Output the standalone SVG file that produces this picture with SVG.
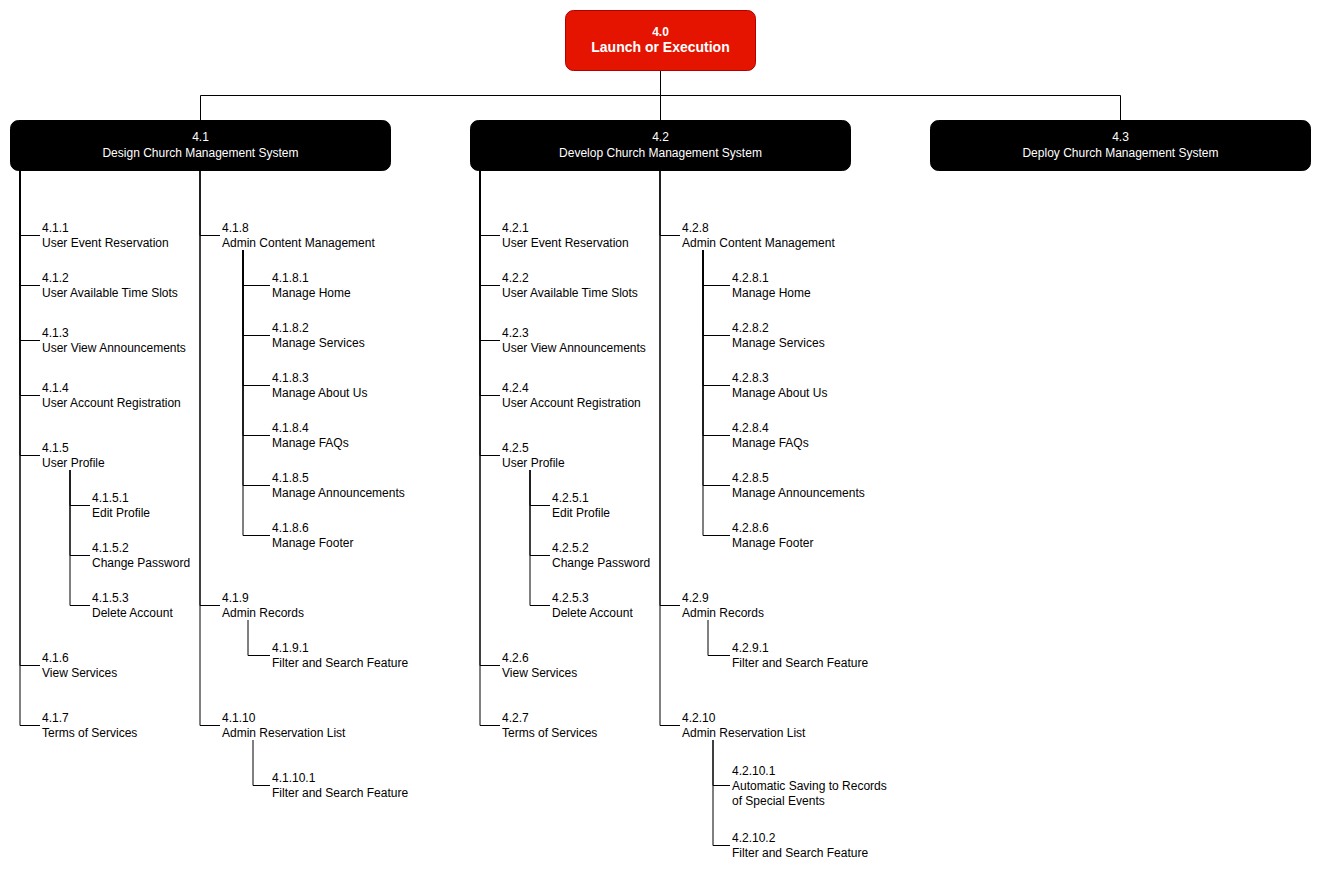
<svg xmlns="http://www.w3.org/2000/svg" width="1321" height="871" viewBox="0 0 1321 871">
<style>
.e{fill:none;stroke:#000;stroke-width:1}
.t{font-family:"Liberation Sans",Arial,Helvetica,sans-serif;font-size:12px;fill:#000}
.h{font-family:"Liberation Sans",Arial,Helvetica,sans-serif;font-size:12px;fill:#fff;text-anchor:middle}
.rb{font-weight:bold}
.box{fill:#000;stroke:#000}
.root{fill:#e51400;stroke:#b20000}
</style>
<rect width="1321" height="871" fill="#fff"/>
<g id="connectors">
<path class="e" d="M660.5,70 V95.5 H200.5 V120"/>
<path class="e" d="M660.5,70 V120"/>
<path class="e" d="M660.5,70 V95.5 H1120.5 V120"/>
<path class="e" d="M20,170 V235.5 H40"/>
<path class="e" d="M20,170 V285.5 H40"/>
<path class="e" d="M20,170 V340.5 H40"/>
<path class="e" d="M20,170 V395.5 H40"/>
<path class="e" d="M20,170 V455.5 H40"/>
<path class="e" d="M20,170 V665.5 H40"/>
<path class="e" d="M20,170 V725.5 H40"/>
<path class="e" d="M70,470 V505.5 H90"/>
<path class="e" d="M70,470 V555.5 H90"/>
<path class="e" d="M70,470 V605.5 H90"/>
<path class="e" d="M200,170 V235.5 H220"/>
<path class="e" d="M200,170 V605.5 H220"/>
<path class="e" d="M200,170 V725.5 H220"/>
<path class="e" d="M243,250 V285.5 H270"/>
<path class="e" d="M243,250 V335.5 H270"/>
<path class="e" d="M243,250 V385.5 H270"/>
<path class="e" d="M243,250 V435.5 H270"/>
<path class="e" d="M243,250 V485.5 H270"/>
<path class="e" d="M243,250 V535.5 H270"/>
<path class="e" d="M248,620 V655.5 H270"/>
<path class="e" d="M253,740 V785.5 H270"/>
<path class="e" d="M480,170 V235.5 H500"/>
<path class="e" d="M480,170 V285.5 H500"/>
<path class="e" d="M480,170 V340.5 H500"/>
<path class="e" d="M480,170 V395.5 H500"/>
<path class="e" d="M480,170 V455.5 H500"/>
<path class="e" d="M480,170 V665.5 H500"/>
<path class="e" d="M480,170 V725.5 H500"/>
<path class="e" d="M530,470 V505.5 H550"/>
<path class="e" d="M530,470 V555.5 H550"/>
<path class="e" d="M530,470 V605.5 H550"/>
<path class="e" d="M660,170 V235.5 H680"/>
<path class="e" d="M660,170 V605.5 H680"/>
<path class="e" d="M660,170 V725.5 H680"/>
<path class="e" d="M703,250 V285.5 H730"/>
<path class="e" d="M703,250 V335.5 H730"/>
<path class="e" d="M703,250 V385.5 H730"/>
<path class="e" d="M703,250 V435.5 H730"/>
<path class="e" d="M703,250 V485.5 H730"/>
<path class="e" d="M703,250 V535.5 H730"/>
<path class="e" d="M708,620 V655.5 H730"/>
<path class="e" d="M713,740 V785.5 H730"/>
<path class="e" d="M713,740 V845.5 H730"/>
</g>
<g id="n4-0"><rect class="root" x="565.5" y="10.5" width="190" height="60" rx="8"/><text class="h rb" x="660.5" y="36">4.0</text><text class="h rb" x="660.5" y="52" style="font-size:14px">Launch or Execution</text></g>
<g id="n4-1"><rect class="box" x="10.5" y="120.5" width="380" height="50" rx="8"/><text class="h" x="200.5" y="141">4.1</text><text class="h" x="200.5" y="157">Design Church Management System</text></g>
<g id="n4-2"><rect class="box" x="470.5" y="120.5" width="380" height="50" rx="8"/><text class="h" x="660.5" y="141">4.2</text><text class="h" x="660.5" y="157">Develop Church Management System</text></g>
<g id="n4-3"><rect class="box" x="930.5" y="120.5" width="380" height="50" rx="8"/><text class="h" x="1120.5" y="141">4.3</text><text class="h" x="1120.5" y="157">Deploy Church Management System</text></g>

<g id="n4-1-1"><text class="t"><tspan x="42" y="232">4.1.1</tspan><tspan x="42" y="247">User Event Reservation</tspan></text></g>
<g id="n4-1-2"><text class="t"><tspan x="42" y="282">4.1.2</tspan><tspan x="42" y="297">User Available Time Slots</tspan></text></g>
<g id="n4-1-3"><text class="t"><tspan x="42" y="337">4.1.3</tspan><tspan x="42" y="352">User View Announcements</tspan></text></g>
<g id="n4-1-4"><text class="t"><tspan x="42" y="392">4.1.4</tspan><tspan x="42" y="407">User Account Registration</tspan></text></g>
<g id="n4-1-5"><text class="t"><tspan x="42" y="452">4.1.5</tspan><tspan x="42" y="467">User Profile</tspan></text></g>
<g id="n4-1-5-1"><text class="t"><tspan x="92" y="502">4.1.5.1</tspan><tspan x="92" y="517">Edit Profile</tspan></text></g>
<g id="n4-1-5-2"><text class="t"><tspan x="92" y="552">4.1.5.2</tspan><tspan x="92" y="567">Change Password</tspan></text></g>
<g id="n4-1-5-3"><text class="t"><tspan x="92" y="602">4.1.5.3</tspan><tspan x="92" y="617">Delete Account</tspan></text></g>
<g id="n4-1-6"><text class="t"><tspan x="42" y="662">4.1.6</tspan><tspan x="42" y="677">View Services</tspan></text></g>
<g id="n4-1-7"><text class="t"><tspan x="42" y="722">4.1.7</tspan><tspan x="42" y="737">Terms of Services</tspan></text></g>

<g id="n4-1-8"><text class="t"><tspan x="222" y="232">4.1.8</tspan><tspan x="222" y="247">Admin Content Management</tspan></text></g>
<g id="n4-1-8-1"><text class="t"><tspan x="272" y="282">4.1.8.1</tspan><tspan x="272" y="297">Manage Home</tspan></text></g>
<g id="n4-1-8-2"><text class="t"><tspan x="272" y="332">4.1.8.2</tspan><tspan x="272" y="347">Manage Services</tspan></text></g>
<g id="n4-1-8-3"><text class="t"><tspan x="272" y="382">4.1.8.3</tspan><tspan x="272" y="397">Manage About Us</tspan></text></g>
<g id="n4-1-8-4"><text class="t"><tspan x="272" y="432">4.1.8.4</tspan><tspan x="272" y="447">Manage FAQs</tspan></text></g>
<g id="n4-1-8-5"><text class="t"><tspan x="272" y="482">4.1.8.5</tspan><tspan x="272" y="497">Manage Announcements</tspan></text></g>
<g id="n4-1-8-6"><text class="t"><tspan x="272" y="532">4.1.8.6</tspan><tspan x="272" y="547">Manage Footer</tspan></text></g>
<g id="n4-1-9"><text class="t"><tspan x="222" y="602">4.1.9</tspan><tspan x="222" y="617">Admin Records</tspan></text></g>
<g id="n4-1-9-1"><text class="t"><tspan x="272" y="652">4.1.9.1</tspan><tspan x="272" y="667">Filter and Search Feature</tspan></text></g>
<g id="n4-1-10"><text class="t"><tspan x="222" y="722">4.1.10</tspan><tspan x="222" y="737">Admin Reservation List</tspan></text></g>
<g id="n4-1-10-1"><text class="t"><tspan x="272" y="782">4.1.10.1</tspan><tspan x="272" y="797">Filter and Search Feature</tspan></text></g>

<g id="n4-2-1"><text class="t"><tspan x="502" y="232">4.2.1</tspan><tspan x="502" y="247">User Event Reservation</tspan></text></g>
<g id="n4-2-2"><text class="t"><tspan x="502" y="282">4.2.2</tspan><tspan x="502" y="297">User Available Time Slots</tspan></text></g>
<g id="n4-2-3"><text class="t"><tspan x="502" y="337">4.2.3</tspan><tspan x="502" y="352">User View Announcements</tspan></text></g>
<g id="n4-2-4"><text class="t"><tspan x="502" y="392">4.2.4</tspan><tspan x="502" y="407">User Account Registration</tspan></text></g>
<g id="n4-2-5"><text class="t"><tspan x="502" y="452">4.2.5</tspan><tspan x="502" y="467">User Profile</tspan></text></g>
<g id="n4-2-5-1"><text class="t"><tspan x="552" y="502">4.2.5.1</tspan><tspan x="552" y="517">Edit Profile</tspan></text></g>
<g id="n4-2-5-2"><text class="t"><tspan x="552" y="552">4.2.5.2</tspan><tspan x="552" y="567">Change Password</tspan></text></g>
<g id="n4-2-5-3"><text class="t"><tspan x="552" y="602">4.2.5.3</tspan><tspan x="552" y="617">Delete Account</tspan></text></g>
<g id="n4-2-6"><text class="t"><tspan x="502" y="662">4.2.6</tspan><tspan x="502" y="677">View Services</tspan></text></g>
<g id="n4-2-7"><text class="t"><tspan x="502" y="722">4.2.7</tspan><tspan x="502" y="737">Terms of Services</tspan></text></g>

<g id="n4-2-8"><text class="t"><tspan x="682" y="232">4.2.8</tspan><tspan x="682" y="247">Admin Content Management</tspan></text></g>
<g id="n4-2-8-1"><text class="t"><tspan x="732" y="282">4.2.8.1</tspan><tspan x="732" y="297">Manage Home</tspan></text></g>
<g id="n4-2-8-2"><text class="t"><tspan x="732" y="332">4.2.8.2</tspan><tspan x="732" y="347">Manage Services</tspan></text></g>
<g id="n4-2-8-3"><text class="t"><tspan x="732" y="382">4.2.8.3</tspan><tspan x="732" y="397">Manage About Us</tspan></text></g>
<g id="n4-2-8-4"><text class="t"><tspan x="732" y="432">4.2.8.4</tspan><tspan x="732" y="447">Manage FAQs</tspan></text></g>
<g id="n4-2-8-5"><text class="t"><tspan x="732" y="482">4.2.8.5</tspan><tspan x="732" y="497">Manage Announcements</tspan></text></g>
<g id="n4-2-8-6"><text class="t"><tspan x="732" y="532">4.2.8.6</tspan><tspan x="732" y="547">Manage Footer</tspan></text></g>
<g id="n4-2-9"><text class="t"><tspan x="682" y="602">4.2.9</tspan><tspan x="682" y="617">Admin Records</tspan></text></g>
<g id="n4-2-9-1"><text class="t"><tspan x="732" y="652">4.2.9.1</tspan><tspan x="732" y="667">Filter and Search Feature</tspan></text></g>
<g id="n4-2-10"><text class="t"><tspan x="682" y="722">4.2.10</tspan><tspan x="682" y="737">Admin Reservation List</tspan></text></g>
<g id="n4-2-10-1"><text class="t"><tspan x="732" y="774.5">4.2.10.1</tspan><tspan x="732" y="789.5">Automatic Saving to Records</tspan><tspan x="732" y="804.5">of Special Events</tspan></text></g>
<g id="n4-2-10-2"><text class="t"><tspan x="732" y="842">4.2.10.2</tspan><tspan x="732" y="857">Filter and Search Feature</tspan></text></g>
</svg>
